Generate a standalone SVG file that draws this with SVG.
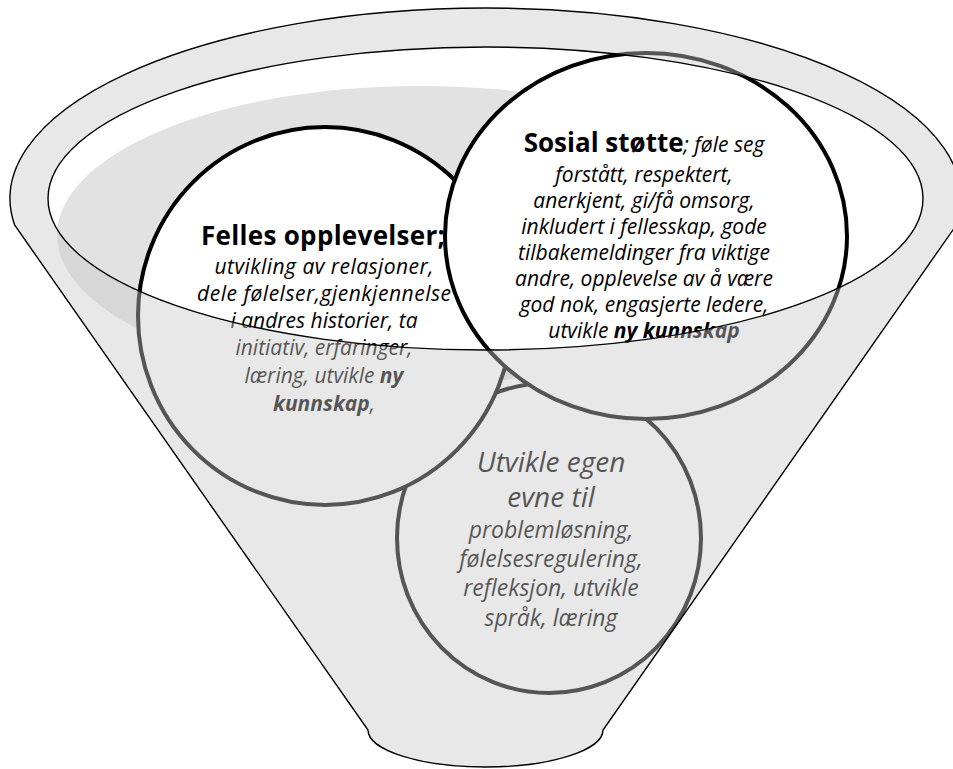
<svg xmlns="http://www.w3.org/2000/svg" width="953" height="769" viewBox="0 0 953 769">
<style>
  .bubble { fill: #ffffff; stroke: #000000; stroke-width: 4; }
  .t { font-family: "Open Sans", "Noto Sans", "DejaVu Sans", sans-serif; fill: #000000; text-anchor: middle; }
  .it { font-style: italic; font-size: 21px; }
  .big { font-style: italic; font-size: 28px; }
  .mid { font-style: italic; font-size: 23px; }
  .hd { font-weight: bold; font-style: normal; font-size: 26px; }
  .b { font-weight: bold; }
  .line { fill: none; stroke: #000000; stroke-width: 1.4; }
</style>
<defs>
  <path id="funnelOutline" d="M 14.6,225 A 475.5 190.5 0 1 1 956.4,225 L 603,730 A 117.5 37 0 0 1 368,730 Z"/>
</defs>
<rect x="0" y="0" width="953" height="769" fill="#ffffff"/>

<g id="funnel-back">
  <ellipse id="inner-shadow" cx="420" cy="235" rx="363" ry="149" fill="#e2e2e2"/>
</g>

<g id="node-utvikle">
  <ellipse class="bubble" cx="549" cy="538" rx="152" ry="155"/>
  <text class="t big" x="551" y="472">Utvikle egen</text>
  <text class="t big" x="551" y="507">evne til</text>
  <text class="t mid" x="551" y="538">problemløsning,</text>
  <text class="t mid" x="551" y="567">følelsesregulering,</text>
  <text class="t mid" x="551" y="596">refleksjon, utvikle</text>
  <text class="t mid" x="551" y="626">språk, læring</text>
</g>

<g id="node-felles">
  <ellipse class="bubble" cx="325" cy="316" rx="187" ry="189"/>
  <text class="t hd" x="323" y="245" textLength="244" lengthAdjust="spacing">Felles opplevelser;</text>
  <text class="t it" x="324" y="274" textLength="219" lengthAdjust="spacing">utvikling av relasjoner,</text>
  <text class="t it" x="324" y="301" textLength="254" lengthAdjust="spacing">dele følelser,gjenkjennelse</text>
  <text class="t it" x="324" y="328">i andres historier, ta</text>
  <text class="t it" x="324" y="355">initiativ, erfaringer,</text>
  <text class="t it" x="324" y="383">læring, utvikle <tspan class="b">ny</tspan></text>
  <text class="t it" x="324" y="411"><tspan class="b">kunnskap</tspan>,</text>
</g>

<g id="node-sosial">
  <ellipse class="bubble" cx="646" cy="236" rx="201" ry="183"/>
  <text class="t it" x="644" y="152"><tspan class="hd">Sosial støtte</tspan>; føle seg</text>
  <text class="t it" x="644" y="182">forstått, respektert,</text>
  <text class="t it" x="644" y="208">anerkjent, gi/få omsorg,</text>
  <text class="t it" x="644" y="234">inkludert i fellesskap, gode</text>
  <text class="t it" x="644" y="260">tilbakemeldinger fra viktige</text>
  <text class="t it" x="644" y="286">andre, opplevelse av å være</text>
  <text class="t it" x="644" y="312">god nok, engasjerte ledere,</text>
  <text class="t it" x="644" y="338">utvikle <tspan class="b">ny kunnskap</tspan></text>
</g>

<g id="funnel-front">
  <path fill="#c8c8c8" fill-opacity="0.424" fill-rule="evenodd" d="M 14.6,225 A 475.5 190.5 0 1 1 956.4,225 L 603,730 A 117.5 37 0 0 1 368,730 Z M 48,198.5 A 437.5 151.5 0 1 0 923,198.5 A 437.5 151.5 0 1 0 48,198.5 Z"/>
  <use href="#funnelOutline" class="line"/>
  <ellipse class="line" cx="485.5" cy="198.5" rx="437.5" ry="151.5"/>
</g>
</svg>
